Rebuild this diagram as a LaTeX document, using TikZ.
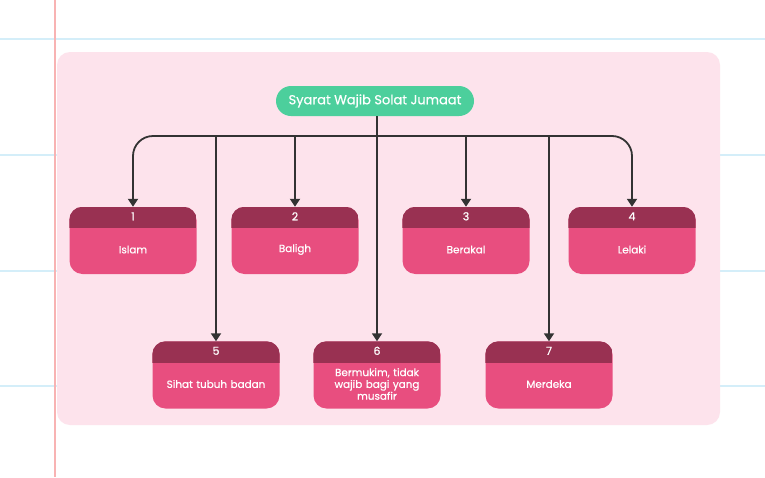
\documentclass[tikz,border=0pt]{standalone}
\usepackage{fontspec}
\setmainfont{Poppins}
\newfontfamily\medfont{Poppins}[FakeBold=0.6]
\usetikzlibrary{arrows.meta}
\definecolor{bgpink}{HTML}{FDE3EC}
\definecolor{rootgreen}{HTML}{4CCF9C}
\definecolor{hdr}{HTML}{993152}
\definecolor{body}{HTML}{E84E7F}
\definecolor{blueline}{HTML}{D4EEF9}
\definecolor{redline}{HTML}{F8B3B3}
\definecolor{conncol}{HTML}{333333}
\tikzset{
  conn/.style={draw=conncol, line width=1.8pt},
  arr/.style={-{Triangle[width=10pt,length=8pt]}},
  cardbox/.style={fill=body, rounded corners=13pt, minimum width=127pt, minimum height=67pt, inner sep=0pt},
  numtext/.style={text=white, font=\medfont\fontsize{11}{12}\selectfont, inner sep=0pt},
  cardtext/.style={text=white, font=\medfont\fontsize{10.4}{11.8}\selectfont, align=center, inner sep=0pt, text width=120pt},
}
\newcommand{\cardnode}[5]{%
  \node[cardbox] (#1) at (#2,#3) {};
  \begin{scope}
    \clip[rounded corners=13pt] (#1.south west) rectangle (#1.north east);
    \fill[hdr] (#1.north west) rectangle ([yshift=-21.5pt]#1.north east);
  \end{scope}
  \node[numtext] (#1n) at ([yshift=-9.5pt]#1.north) {#4};
  \node[cardtext] (#1t) at ([yshift=-9pt]#1.center) {#5};
}
\begin{document}
\begin{tikzpicture}[x=1pt,y=-1pt]
\useasboundingbox[fill=white] (0,0) rectangle (765,477);
% notebook lines
\foreach \yy in {39,155,271,386} {\draw[blueline, line width=2pt] (0,\yy) -- (765,\yy);}
\draw[redline, line width=2pt] (55,0) -- (55,477);
% panel
\fill[bgpink, rounded corners=13pt] (57,52) rectangle (720,425);
% root
\node[fill=rootgreen, rounded corners=15pt, minimum width=198pt, minimum height=30pt, inner sep=0pt, text=white, font=\medfont\fontsize{13}{15}\selectfont] (root) at (375,101) {Syarat Wajib Solat Jumaat};
% cards
\cardnode{b1}{133}{240.5}{1}{Islam}
\cardnode{b2}{295}{240.5}{2}{Baligh}
\cardnode{b3}{466}{240.5}{3}{Berakal}
\cardnode{b4}{632}{240.5}{4}{Lelaki}
\cardnode{b5}{216}{375}{5}{Sihat tubuh badan}
\cardnode{b6}{377}{375}{6}{Bermukim, tidak\\wajib bagi yang\\musafir}
\cardnode{b7}{549}{375}{7}{Merdeka}
% connectors
\coordinate (bus) at (377,136);
\draw[conn, arr] (root.south -| bus) -- (b6.north);
\draw[conn, arr, rounded corners=20pt] (bus) -| (b1.north);
\draw[conn, arr, rounded corners=20pt] (bus) -| (b4.north);
\draw[conn, arr] (b2.north |- bus) -- (b2.north);
\draw[conn, arr] (b3.north |- bus) -- (b3.north);
\draw[conn, arr] (b5.north |- bus) -- (b5.north);
\draw[conn, arr] (b7.north |- bus) -- (b7.north);
\end{tikzpicture}
\end{document}
